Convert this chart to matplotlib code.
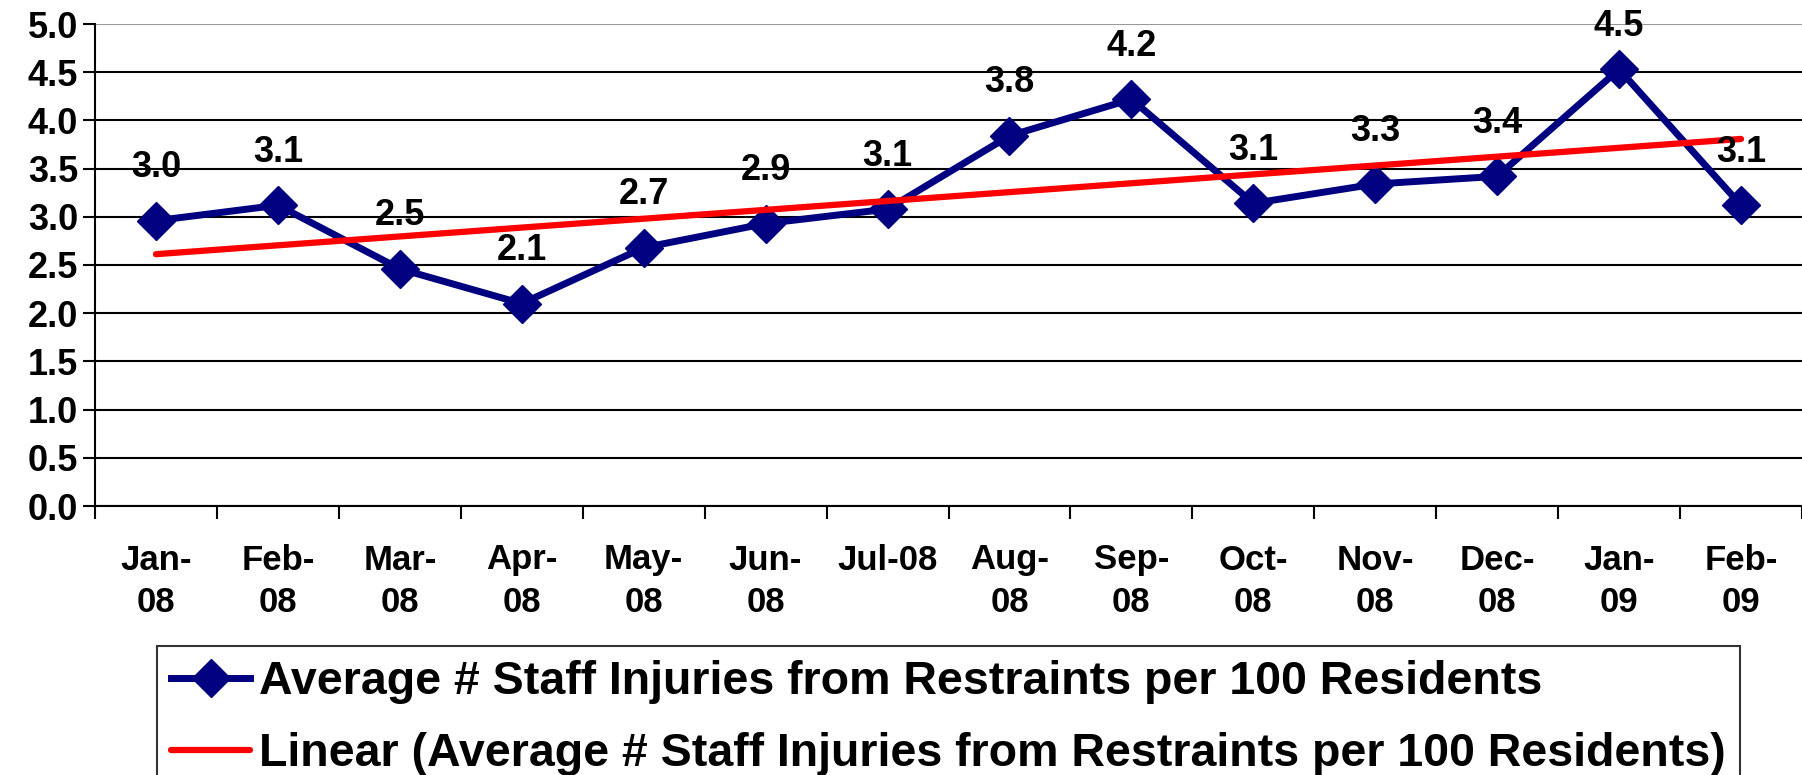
import numpy as np
import matplotlib
matplotlib.use('agg')
from matplotlib import pyplot as plt
from matplotlib.ticker import FixedLocator, NullFormatter

plt.rcParams['font.family'] = ['Liberation Sans', 'DejaVu Sans']
plt.rcParams['font.weight'] = 'bold'

months = ['Jan-\n08', 'Feb-\n08', 'Mar-\n08', 'Apr-\n08', 'May-\n08', 'Jun-\n08', 'Jul-08',
          'Aug-\n08', 'Sep-\n08', 'Oct-\n08', 'Nov-\n08', 'Dec-\n08', 'Jan-\n09', 'Feb-\n09']
injuries = [2.96, 3.12, 2.46, 2.10, 2.68, 2.93, 3.08, 3.84, 4.22, 3.14, 3.34, 3.42, 4.53, 3.12]
series_name = 'Average # Staff Injuries from Restraints per 100 Residents'

NAVY = '#000080'
RED = '#FF0000'

fig = plt.figure(figsize=(18.02, 7.75), dpi=100)
ax = fig.add_axes([95 / 1802, 1 - 506 / 775, 1 - 95 / 1802, 482 / 775])

x = np.arange(len(months))
y = np.array(injuries)

line, = ax.plot(x, y, color=NAVY, lw=5, marker='D', ms=19,
                mec=NAVY, mfc=NAVY, zorder=4, label=series_name)

# linear trendline, as Excel draws it
slope, icpt = np.polyfit(x, y, 1)
trend, = ax.plot(x, slope * x + icpt, color=RED, lw=4.5, solid_capstyle='round',
                 zorder=5, label=f'Linear ({series_name})')

for xi, yi in zip(x, y):
    ax.text(xi, min(yi + 0.55, 4.97), f'{yi:.1f}', ha='center', va='center',
            fontsize=26, fontweight='bold', zorder=6)

ax.set_xlim(-0.5, len(months) - 0.5)
ax.set_ylim(0, 5)
yticks = np.arange(0, 5.01, 0.5)
ax.set_yticks(yticks)
ax.set_yticklabels([f'{v:.1f}' for v in yticks])

ax.xaxis.set_major_locator(FixedLocator(np.arange(-0.5, len(months), 1.0)))
ax.xaxis.set_major_formatter(NullFormatter())
ax.xaxis.set_minor_locator(FixedLocator(x))
ax.set_xticklabels(months, minor=True)
ax.tick_params(axis='x', which='minor', length=0, pad=27, labelsize=25)
ax.tick_params(axis='x', which='major', length=9, width=1.5, direction='out')
ax.tick_params(axis='y', length=9, width=1.5, labelsize=26, pad=3)
for lab in ax.get_xticklabels(minor=True):
    lab.set_linespacing(1.35)
    lab.set_fontweight('bold')
for lab in ax.get_yticklabels():
    lab.set_fontweight('bold')

ax.grid(axis='y', color='black', lw=1.5)
ax.get_ygridlines()[-1].set_color('#999999')
ax.set_axisbelow(True)
for side in ('top', 'right'):
    ax.spines[side].set_visible(False)
ax.spines['left'].set_linewidth(1.5)
ax.spines['bottom'].set_linewidth(1.5)

leg = fig.legend(handles=[line, trend], loc='upper left',
                 bbox_to_anchor=(157 / 1802, 1 - 646 / 775),
                 prop={'size': 33.5, 'weight': 'bold'}, frameon=True,
                 fancybox=False, edgecolor='black', handlelength=1.7,
                 handletextpad=0.2, labelspacing=0.6, borderpad=0.3,
                 borderaxespad=0)
leg.get_frame().set_linewidth(1.5)

fig.savefig('out.png', dpi=100)
